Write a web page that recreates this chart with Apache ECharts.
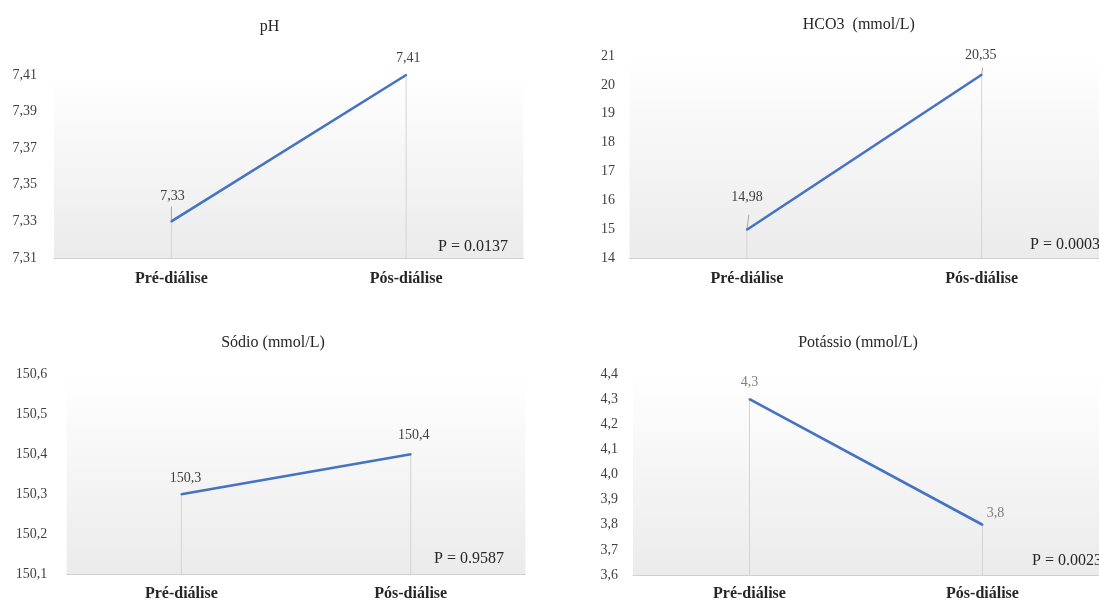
<!DOCTYPE html>
<html>
<head>
<meta charset="utf-8">
<style>
  html, body { margin: 0; padding: 0; background: #ffffff; }
  #chart { width: 1099px; height: 602px; }
</style>
<script src="https://cdn.jsdelivr.net/npm/echarts@6/dist/echarts.min.js"></script>
</head>
<body>
<div id="chart"></div>
<script>
// ---- data ----
const categories = ['Pré-diálise', 'Pós-diálise'];

const phValues = [7.33, 7.41];
const hco3Values = [14.98, 20.35];
const sodiumValues = [150.3, 150.4];
const potassiumValues = [4.3, 3.8];

const phTicks = [7.31, 7.33, 7.35, 7.37, 7.39, 7.41];
const hco3Ticks = [14, 15, 16, 17, 18, 19, 20, 21];
const sodiumTicks = [150.1, 150.2, 150.3, 150.4, 150.5, 150.6];
const potassiumTicks = [3.6, 3.7, 3.8, 3.9, 4.0, 4.1, 4.2, 4.3, 4.4];

const panelTitles = ['pH', 'HCO3  (mmol/L)', 'Sódio (mmol/L)', 'Potássio (mmol/L)'];
const pLabels = ['P = 0.0137', 'P = 0.0003', 'P = 0.9587', 'P = 0.0023'];

// ---- layout & style per panel ----
const FONT = '"Liberation Serif", "Times New Roman", serif';
const LINE_BLUE = '#4472c4';
const GUIDE = '#d4d4d4';

const panels = [
  {
    values: phValues, ticks: phTicks, decimals: 2, tickDecimals: 2, interval: 0.01,
    grid: { left: 54, right: 575.5, top: 75, bottom: 344 },
    yMargin: 17, xMargin: 13,
    title: [269.6, 27], p: [438, 247],
    labelOffsets: [[1, -25], [2, -17]],
    leaders: [[0, -15], null],
    labelColor: '#404040'
  },
  {
    values: hco3Values, ticks: hco3Ticks, decimals: 2, tickDecimals: 0, interval: 1,
    grid: { left: 629.5, right: -16.5, top: 56, bottom: 344 },
    yMargin: 14.5, xMargin: 13,
    title: [858.8, 25], p: [1030, 245],
    labelOffsets: [[0, -32], [-1, -19]],
    leaders: [[2, -15], [1, -7]],
    labelColor: '#404040'
  },
  {
    values: sodiumValues, ticks: sodiumTicks, decimals: 1, tickDecimals: 1, interval: 0.1,
    grid: { left: 66.7, right: 573.6, top: 374, bottom: 27.5 },
    yMargin: 19.4, xMargin: 11,
    title: [273, 343], p: [434, 559],
    labelOffsets: [[4, -16], [3, -19]],
    leaders: [null, null],
    labelColor: '#404040'
  },
  {
    values: potassiumValues, ticks: potassiumTicks, decimals: 1, tickDecimals: 1, interval: 0.1,
    grid: { left: 633, right: -14, top: 374, bottom: 27 },
    yMargin: 15, xMargin: 11,
    title: [858, 343], p: [1032, 561],
    labelOffsets: [[0, -17], [13, -11]],
    leaders: [null, null],
    labelColor: '#7f7f7f'
  }
];

function fmt(v, decimals) {
  return v.toFixed(decimals).replace('.', ',');
}

const grids = [];
const xAxes = [];
const yAxes = [];
const series = [];
const graphics = [];

panels.forEach((pn, i) => {
  const yMin = pn.ticks[0];
  const yMax = pn.ticks[pn.ticks.length - 1];

  grids.push(Object.assign({
    show: true,
    borderWidth: 0,
    backgroundColor: new echarts.graphic.LinearGradient(0, 0, 0, 1, [
      { offset: 0, color: '#ffffff' },
      { offset: 1, color: '#ebebeb' }
    ])
  }, pn.grid));

  xAxes.push({
    type: 'category',
    gridIndex: i,
    data: categories,
    boundaryGap: true,
    axisLine: { show: true, lineStyle: { color: '#d0d0d0', width: 1 } },
    axisTick: { show: false },
    splitLine: { show: false },
    axisLabel: {
      margin: pn.xMargin,
      fontFamily: FONT,
      fontSize: 16,
      fontWeight: 'bold',
      color: '#262626'
    }
  });

  yAxes.push({
    type: 'value',
    gridIndex: i,
    min: yMin,
    max: yMax,
    interval: pn.interval,
    axisLine: { show: false },
    axisTick: { show: false },
    splitLine: { show: false },
    axisLabel: {
      margin: pn.yMargin,
      fontFamily: FONT,
      fontSize: 14,
      color: '#404040',
      formatter: (v) => {
        const hit = pn.ticks.find(t => Math.abs(t - v) < 1e-6);
        return hit === undefined ? '' : fmt(hit, pn.tickDecimals);
      }
    }
  });

  // drop lines from each point to the category axis, plus short label leaders
  series.push({
    type: 'custom',
    xAxisIndex: i,
    yAxisIndex: i,
    z: 1,
    silent: true,
    data: pn.values.map((v, k) => [k, v]),
    encode: { x: 0, y: 1 },
    renderItem: (params, api) => {
      const k = api.value(0);
      const v = api.value(1);
      const top = api.coord([k, v]);
      const base = api.coord([k, yMin]);
      const children = [{
        type: 'line',
        shape: { x1: top[0], y1: top[1], x2: base[0], y2: base[1] },
        style: { stroke: GUIDE, lineWidth: 1 }
      }];
      const ld = pn.leaders[k];
      if (ld) {
        children.push({
          type: 'line',
          shape: { x1: top[0], y1: top[1], x2: top[0] + ld[0], y2: top[1] + ld[1] },
          style: { stroke: '#a6a6a6', lineWidth: 1 }
        });
      }
      return { type: 'group', children };
    }
  });

  series.push({
    type: 'line',
    xAxisIndex: i,
    yAxisIndex: i,
    z: 3,
    data: pn.values.map((v, k) => ({
      value: v,
      label: { offset: pn.labelOffsets[k] }
    })),
    symbol: 'circle',
    symbolSize: 2,
    showSymbol: true,
    itemStyle: { color: LINE_BLUE },
    lineStyle: { color: LINE_BLUE, width: 2.6 },
    label: {
      show: true,
      position: 'inside',
      fontFamily: FONT,
      fontSize: 14,
      color: pn.labelColor,
      formatter: (p) => fmt(p.value, pn.decimals)
    },
    emphasis: { disabled: true },
    animation: false
  });

  graphics.push({
    type: 'text',
    x: pn.title[0],
    y: pn.title[1],
    style: {
      text: panelTitles[i],
      font: '16px ' + FONT,
      fill: '#262626',
      textAlign: 'center',
      textVerticalAlign: 'middle'
    }
  });
  graphics.push({
    type: 'text',
    x: pn.p[0],
    y: pn.p[1],
    style: {
      text: pLabels[i],
      font: '16px ' + FONT,
      fill: '#262626',
      textAlign: 'left',
      textVerticalAlign: 'middle'
    }
  });
});

const chart = echarts.init(document.getElementById('chart'), null, { renderer: 'canvas' });
chart.setOption({
  backgroundColor: '#ffffff',
  animation: false,
  grid: grids,
  xAxis: xAxes,
  yAxis: yAxes,
  series: series,
  graphic: graphics
});
</script>
</body>
</html>
